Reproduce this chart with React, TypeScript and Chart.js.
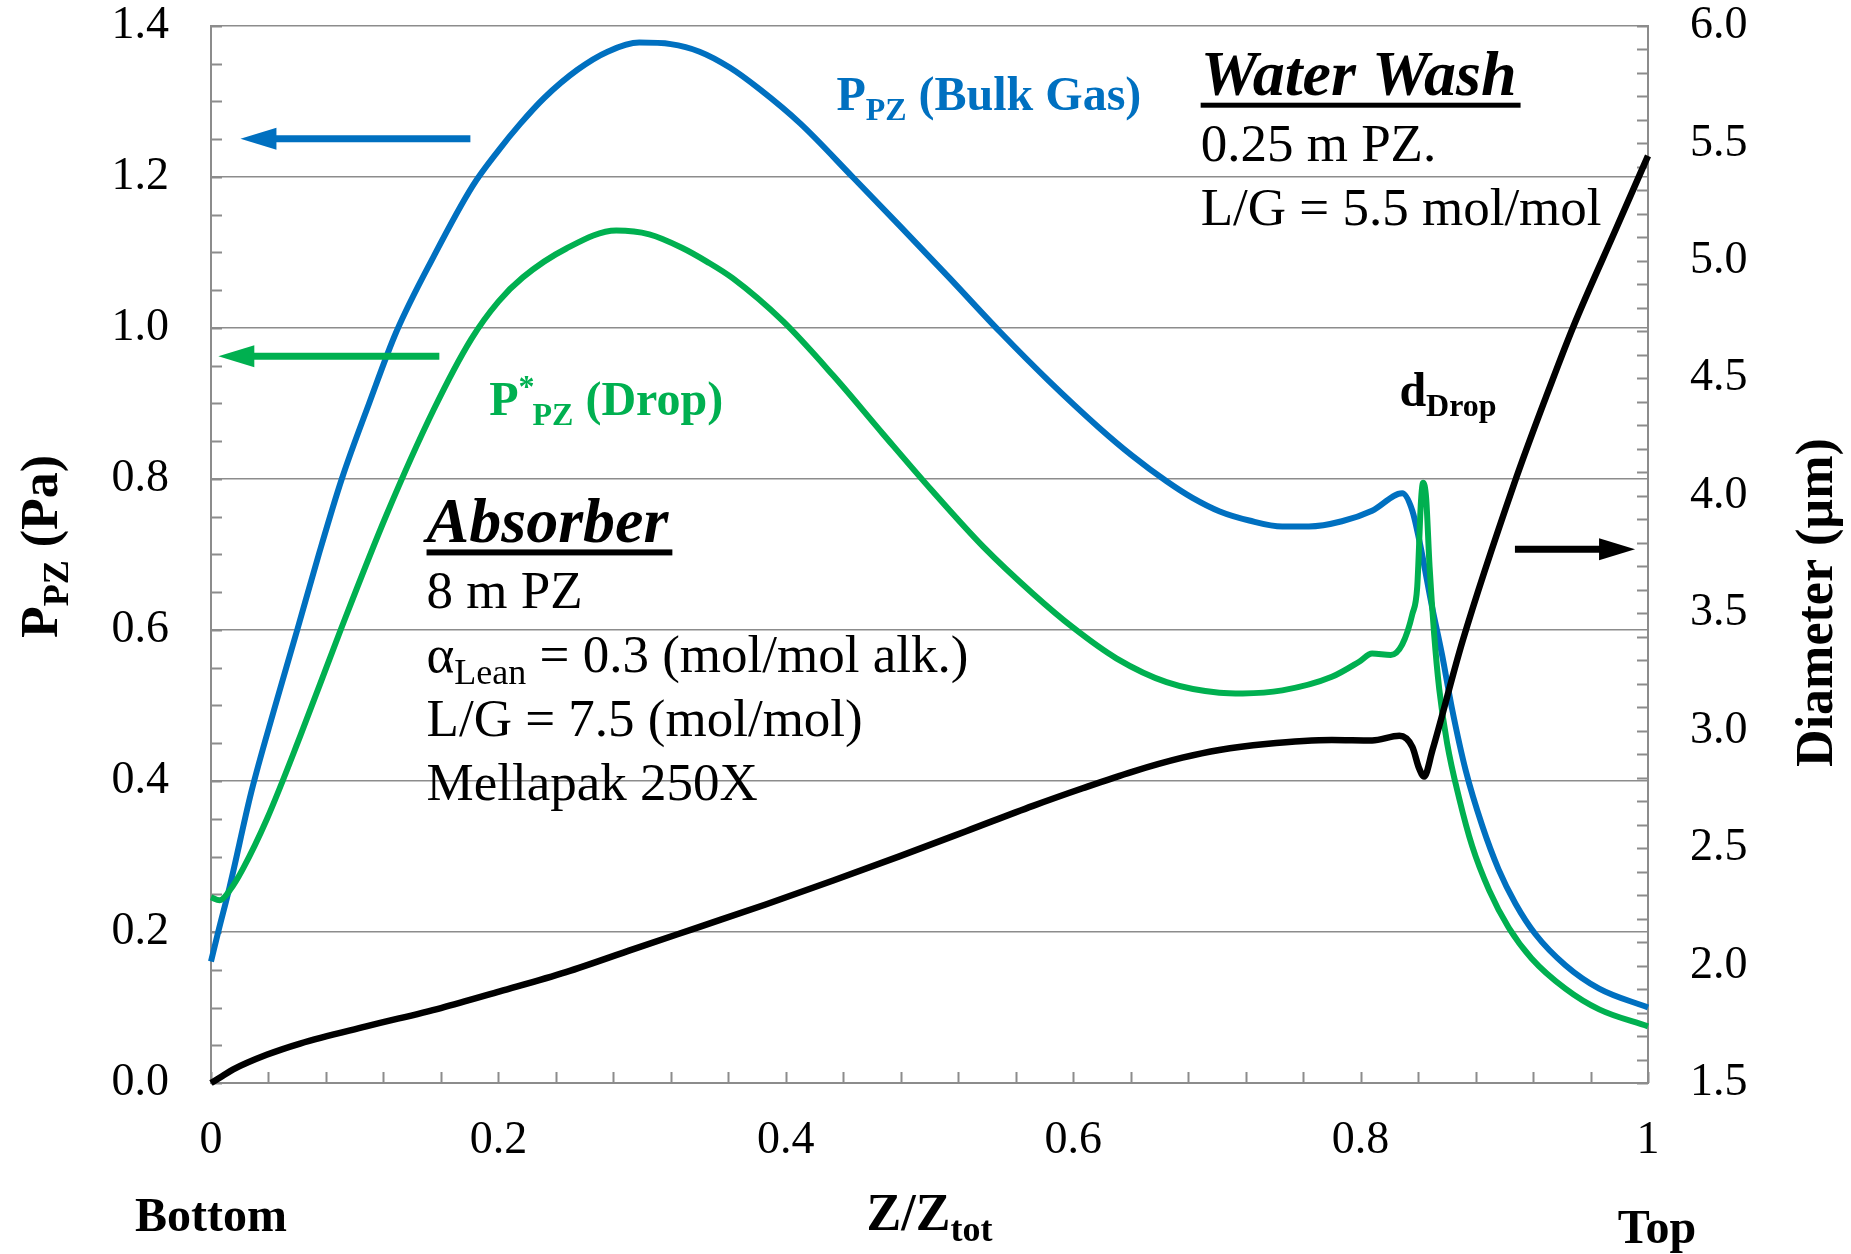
import React, { useEffect, useRef } from 'react';
import { Chart, registerables } from 'chart.js';

Chart.register(...registerables);

// ---------- Data ----------
// P_PZ (Bulk Gas), left axis (Pa)
const zBulk = [0, 0.005, 0.013, 0.028, 0.044, 0.06, 0.075, 0.091, 0.11, 0.129, 0.155, 0.182, 0.2, 0.215, 0.232, 0.255, 0.276, 0.298, 0.32, 0.34, 0.361, 0.382, 0.41, 0.447, 0.479, 0.514, 0.549, 0.583, 0.618, 0.641, 0.665, 0.683, 0.702, 0.7225, 0.7455, 0.764, 0.787, 0.808, 0.829, 0.836, 0.8407, 0.8498, 0.8567, 0.8637, 0.8732, 0.8846, 0.896, 0.9078, 0.9217, 0.9425, 0.966, 1.0];
const pBulk = [0.161, 0.2, 0.26, 0.385, 0.495, 0.6, 0.7, 0.8, 0.9, 0.995, 1.095, 1.188, 1.235, 1.27, 1.305, 1.342, 1.366, 1.378, 1.376, 1.366, 1.345, 1.316, 1.271, 1.199, 1.136, 1.066, 0.995, 0.93, 0.868, 0.831, 0.797, 0.775, 0.757, 0.745, 0.737, 0.737, 0.744, 0.758, 0.781, 0.758, 0.72, 0.63, 0.567, 0.495, 0.4135, 0.341, 0.283, 0.2375, 0.197, 0.156, 0.125, 0.1];

// P*_PZ (Drop), left axis (Pa)
const zDrop = [0, 0.006, 0.013, 0.022, 0.039, 0.062, 0.09, 0.122, 0.155, 0.181, 0.2, 0.217, 0.247, 0.282, 0.305, 0.328, 0.345, 0.363, 0.398, 0.433, 0.4675, 0.502, 0.537, 0.572, 0.6, 0.63, 0.665, 0.7017, 0.718, 0.7455, 0.78, 0.799, 0.808, 0.821, 0.829, 0.836, 0.8394, 0.842, 0.8435, 0.8456, 0.848, 0.8512, 0.8547, 0.8602, 0.8686, 0.8776, 0.8894, 0.903, 0.919, 0.9425, 0.966, 1.0];
const pDrop = [0.246, 0.242, 0.255, 0.283, 0.35, 0.459, 0.599, 0.752, 0.892, 0.985, 1.035, 1.067, 1.105, 1.129, 1.124, 1.106, 1.088, 1.066, 1.009, 0.937, 0.86, 0.784, 0.711, 0.648, 0.603, 0.5625, 0.531, 0.517, 0.516, 0.52, 0.538, 0.558, 0.569, 0.567, 0.581, 0.621, 0.657, 0.77, 0.795, 0.775, 0.684, 0.594, 0.522, 0.45, 0.377, 0.314, 0.2555, 0.206, 0.165, 0.125, 0.0975, 0.075];

// d_Drop, right axis (µm)
const zDiam = [0, 0.008, 0.0155, 0.0387, 0.062, 0.108, 0.16, 0.201, 0.247, 0.294, 0.34, 0.386, 0.433, 0.479, 0.5255, 0.572, 0.6066, 0.641, 0.676, 0.7017, 0.734, 0.78, 0.808, 0.827, 0.836, 0.8407, 0.8442, 0.85, 0.8709, 0.9068, 0.929, 0.948, 0.978, 1.0];
const dDiam = [1.5, 1.53, 1.558, 1.62, 1.668, 1.741, 1.819, 1.89, 1.972, 2.07, 2.165, 2.26, 2.362, 2.465, 2.572, 2.68, 2.755, 2.825, 2.885, 2.918, 2.943, 2.96, 2.958, 2.978, 2.931, 2.84, 2.805, 2.917, 3.38, 4.05, 4.42, 4.72, 5.14, 5.447];

// Axis ranges / tick steps
const X_MIN = 0, X_MAX = 1, X_STEP = 0.2, X_MINOR = 0.04;
const Y_MIN = 0, Y_MAX = 1.4, Y_STEP = 0.2, Y_MINOR = 0.05;
const Y2_MIN = 1.5, Y2_MAX = 6.0, Y2_STEP = 0.5, Y2_MINOR = 0.1;

// ---------- Style ----------
const W = 1851;
const H = 1254;
const FAMILY = "'Liberation Serif', 'Times New Roman', Times, serif";
const BLUE = '#0070C0';
const GREEN = '#00B050';
const BLACK = '#000000';
const GRID = '#8c8c8c';

type Seg = { t: string; s: number; b?: boolean; i?: boolean; dy?: number };
const fontOf = (s: Seg) => `${s.i ? 'italic ' : ''}${s.b ? 'bold ' : ''}${s.s}px ${FAMILY}`;

function measure(ctx: CanvasRenderingContext2D, segs: Seg[]) {
  let w = 0;
  for (const s of segs) {
    ctx.font = fontOf(s);
    w += ctx.measureText(s.t).width;
  }
  return w;
}

function drawSegs(ctx: CanvasRenderingContext2D, segs: Seg[], x: number, y: number, color: string, align: 'left' | 'center' = 'left') {
  const w = measure(ctx, segs);
  let cx = align === 'center' ? x - w / 2 : x;
  const x0 = cx;
  ctx.fillStyle = color;
  ctx.textAlign = 'left';
  ctx.textBaseline = 'alphabetic';
  for (const s of segs) {
    ctx.font = fontOf(s);
    ctx.fillText(s.t, cx, y + (s.dy || 0));
    cx += ctx.measureText(s.t).width;
  }
  return { x0, w };
}

function arrow(ctx: CanvasRenderingContext2D, x1: number, y1: number, x2: number, y2: number, color: string) {
  const dir = Math.sign(x2 - x1);
  const headLen = 36;
  const headHalf = 11;
  ctx.save();
  ctx.strokeStyle = color;
  ctx.fillStyle = color;
  ctx.lineWidth = 7;
  ctx.lineCap = 'butt';
  ctx.beginPath();
  ctx.moveTo(x1, y1);
  ctx.lineTo(x2 - dir * headLen * 0.9, y2);
  ctx.stroke();
  ctx.beginPath();
  ctx.moveTo(x2, y2);
  ctx.lineTo(x2 - dir * headLen, y2 - headHalf);
  ctx.lineTo(x2 - dir * headLen, y2 + headHalf);
  ctx.closePath();
  ctx.fill();
  ctx.restore();
}

// Annotation anchors in data coordinates (Z, left-axis value)
const NOTE_BULK = { z: 0.4352, v: 1.289 };
const NOTE_DROP = { z: 0.1936, v: 0.885 };
const NOTE_DDROP = { z: 0.827, v: 0.897 };
const NOTE_WASH = { z: 0.6887, v: 1.309 };
const NOTE_ABS = { z: 0.150, v: 0.716 };
const ARROW_BULK = { z1: 0.1805, z2: 0.0205, v: 1.2506 };
const ARROW_DROP = { z1: 0.1589, z2: 0.0051, v: 0.9625 };
const ARROW_DIAM = { z1: 0.9074, z2: 0.991, v: 0.707 };

const washLines = ['0.25 m PZ.', 'L/G = 5.5 mol/mol'];
const absorberLines = ['8 m PZ', 'ALPHA', 'L/G = 7.5 (mol/mol)', 'Mellapak 250X'];

const pts = (xs: number[], ys: number[]) => xs.map((x, i) => ({ x, y: ys[i] }));

const noPad = (s: any) => {
  s.paddingTop = 0;
  s.paddingBottom = 0;
  s.paddingLeft = 0;
  s.paddingRight = 0;
};

const decorPlugin = {
  id: 'decor',
  beforeDatasetsDraw(chart: any) {
    const { ctx, chartArea: a, scales } = chart;
    ctx.save();
    ctx.strokeStyle = GRID;
    ctx.lineWidth = 2;
    const TL = 11;
    ctx.beginPath();
    const nY = Math.round((Y_MAX - Y_MIN) / Y_MINOR);
    for (let i = 0; i <= nY; i++) {
      const y = Math.round(scales.y.getPixelForValue(Y_MIN + i * Y_MINOR)) + 0.5;
      ctx.moveTo(a.left, y);
      ctx.lineTo(a.left + TL, y);
    }
    const nY2 = Math.round((Y2_MAX - Y2_MIN) / Y2_MINOR);
    for (let i = 0; i <= nY2; i++) {
      const y = Math.round(scales.y2.getPixelForValue(Y2_MIN + i * Y2_MINOR)) + 0.5;
      ctx.moveTo(a.right - TL, y);
      ctx.lineTo(a.right, y);
    }
    const nX = Math.round((X_MAX - X_MIN) / X_MINOR);
    for (let i = 0; i <= nX; i++) {
      const x = Math.round(scales.x.getPixelForValue(X_MIN + i * X_MINOR)) + 0.5;
      ctx.moveTo(x, a.bottom);
      ctx.lineTo(x, a.bottom - TL);
    }
    ctx.stroke();
    ctx.restore();
  },
  afterDraw(chart: any) {
    const { ctx, chartArea: a, scales } = chart;
    const X = (z: number) => scales.x.getPixelForValue(z);
    const Y = (v: number) => scales.y.getPixelForValue(v);
    ctx.save();

    // Series labels
    drawSegs(ctx, [
      { t: 'P', s: 48, b: true },
      { t: 'PZ', s: 32, b: true, dy: 10 },
      { t: ' (Bulk Gas)', s: 48, b: true },
    ], X(NOTE_BULK.z), Y(NOTE_BULK.v), BLUE);

    {
      const x0 = X(NOTE_DROP.z);
      const y0 = Y(NOTE_DROP.v);
      ctx.font = fontOf({ t: 'P', s: 48, b: true });
      const pw = ctx.measureText('P').width;
      drawSegs(ctx, [{ t: 'P', s: 48, b: true }], x0, y0, GREEN);
      drawSegs(ctx, [{ t: '*', s: 32, b: true }], x0 + pw, y0 - 18, GREEN);
      drawSegs(ctx, [
        { t: 'PZ', s: 32, b: true, dy: 10 },
        { t: ' (Drop)', s: 48, b: true },
      ], x0 + pw + 14, y0, GREEN);
    }

    drawSegs(ctx, [
      { t: 'd', s: 48, b: true },
      { t: 'Drop', s: 32, b: true, dy: 10 },
    ], X(NOTE_DDROP.z), Y(NOTE_DDROP.v), BLACK);

    // Water wash block
    {
      const x0 = X(NOTE_WASH.z);
      const y0 = Y(NOTE_WASH.v);
      const r = drawSegs(ctx, [{ t: 'Water Wash', s: 64, b: true, i: true }], x0, y0, BLACK);
      ctx.fillStyle = BLACK;
      ctx.fillRect(r.x0, y0 + 8, r.w + 4, 5);
      washLines.forEach((t, i) => {
        drawSegs(ctx, [{ t, s: 53 }], x0, y0 + 66 + i * 64, BLACK);
      });
    }

    // Absorber block
    {
      const x0 = X(NOTE_ABS.z);
      const y0 = Y(NOTE_ABS.v);
      const r = drawSegs(ctx, [{ t: 'Absorber', s: 64, b: true, i: true }], x0, y0, BLACK);
      ctx.fillStyle = BLACK;
      ctx.fillRect(r.x0, y0 + 7, r.w + 4, 6);
      absorberLines.forEach((t, i) => {
        const yy = y0 + 66 + i * 64;
        if (t === 'ALPHA') {
          drawSegs(ctx, [
            { t: 'α', s: 53 },
            { t: 'Lean', s: 36, dy: 12 },
            { t: ' = 0.3 (mol/mol alk.)', s: 53 },
          ], x0, yy, BLACK);
        } else {
          drawSegs(ctx, [{ t, s: 53 }], x0, yy, BLACK);
        }
      });
    }

    // Arrows
    arrow(ctx, X(ARROW_BULK.z1), Y(ARROW_BULK.v), X(ARROW_BULK.z2), Y(ARROW_BULK.v), BLUE);
    arrow(ctx, X(ARROW_DROP.z1), Y(ARROW_DROP.v), X(ARROW_DROP.z2), Y(ARROW_DROP.v), GREEN);
    arrow(ctx, X(ARROW_DIAM.z1), Y(ARROW_DIAM.v), X(ARROW_DIAM.z2), Y(ARROW_DIAM.v), BLACK);

    // Axis titles
    ctx.save();
    ctx.translate(57, (a.top + a.bottom) / 2 - 8);
    ctx.rotate(-Math.PI / 2);
    drawSegs(ctx, [
      { t: 'P', s: 52, b: true },
      { t: 'PZ', s: 36, b: true, dy: 11 },
      { t: ' (Pa)', s: 52, b: true },
    ], 0, 0, BLACK, 'center');
    ctx.restore();

    ctx.save();
    ctx.translate(1832, (a.top + a.bottom) / 2 + 48);
    ctx.rotate(-Math.PI / 2);
    drawSegs(ctx, [{ t: 'Diameter (µm)', s: 52, b: true }], 0, 0, BLACK, 'center');
    ctx.restore();

    drawSegs(ctx, [
      { t: 'Z/Z', s: 52, b: true },
      { t: 'tot', s: 36, b: true, dy: 11 },
    ], X(0.5), a.bottom + 147, BLACK, 'center');
    drawSegs(ctx, [{ t: 'Bottom', s: 48, b: true }], X(0), a.bottom + 148, BLACK, 'center');
    drawSegs(ctx, [{ t: 'Top', s: 48, b: true }], X(1) + 9, a.bottom + 160, BLACK, 'center');

    ctx.restore();
  },
};

export default function App() {
  const ref = useRef<HTMLCanvasElement | null>(null);

  useEffect(() => {
    if (!ref.current) return;
    const tickFont = { family: FAMILY, size: 46 };
    const chart = new Chart(ref.current, {
      type: 'line',
      data: {
        datasets: [
          {
            label: 'd_Drop',
            data: pts(zDiam, dDiam),
            yAxisID: 'y2',
            borderColor: BLACK,
            borderWidth: 6.5,
            pointRadius: 0,
            cubicInterpolationMode: 'monotone',
            clip: false,
            order: 1,
          },
          {
            label: 'P*_PZ (Drop)',
            data: pts(zDrop, pDrop),
            yAxisID: 'y',
            borderColor: GREEN,
            borderWidth: 6,
            pointRadius: 0,
            cubicInterpolationMode: 'monotone',
            clip: false,
            order: 2,
          },
          {
            label: 'P_PZ (Bulk Gas)',
            data: pts(zBulk, pBulk),
            yAxisID: 'y',
            borderColor: BLUE,
            borderWidth: 6,
            pointRadius: 0,
            cubicInterpolationMode: 'monotone',
            clip: false,
            order: 3,
          },
        ],
      },
      options: {
        responsive: false,
        animation: false,
        devicePixelRatio: 1,
        layout: { autoPadding: false, padding: { top: 26, left: 0, right: 0, bottom: 0 } },
        plugins: {
          legend: { display: false },
          tooltip: { enabled: false },
        },
        scales: {
          x: {
            type: 'linear',
            position: 'bottom',
            min: X_MIN,
            max: X_MAX,
            afterFit: (s: any) => { s.height = 171; noPad(s); },
            grid: { display: false, drawTicks: false },
            border: { display: true, color: GRID, width: 2 },
            ticks: {
              stepSize: X_STEP,
              padding: 30,
              color: BLACK,
              font: tickFont,
              maxRotation: 0,
              callback: (v: any) => String(Number(Number(v).toFixed(1))),
            },
          },
          y: {
            type: 'linear',
            position: 'left',
            min: Y_MIN,
            max: Y_MAX,
            afterFit: (s: any) => { s.width = 211; noPad(s); },
            grid: { color: GRID, lineWidth: 1.5, drawTicks: false },
            border: { display: true, color: GRID, width: 2 },
            ticks: {
              stepSize: Y_STEP,
              padding: 42,
              color: BLACK,
              font: tickFont,
              callback: (v: any) => Number(v).toFixed(1),
            },
          },
          y2: {
            type: 'linear',
            position: 'right',
            min: Y2_MIN,
            max: Y2_MAX,
            afterFit: (s: any) => { s.width = 203; noPad(s); },
            grid: { display: false, drawTicks: false },
            border: { display: true, color: GRID, width: 2 },
            ticks: {
              stepSize: Y2_STEP,
              padding: 42,
              color: BLACK,
              font: tickFont,
              callback: (v: any) => Number(v).toFixed(1),
            },
          },
        },
      } as any,
      plugins: [decorPlugin],
    });
    return () => chart.destroy();
  }, []);

  return (
    <div style={{ position: 'absolute', left: 0, top: 0, width: W, height: H, overflow: 'hidden', background: '#fff' }}>
      <canvas ref={ref} width={W} height={H} style={{ display: 'block' }} />
    </div>
  );
}
